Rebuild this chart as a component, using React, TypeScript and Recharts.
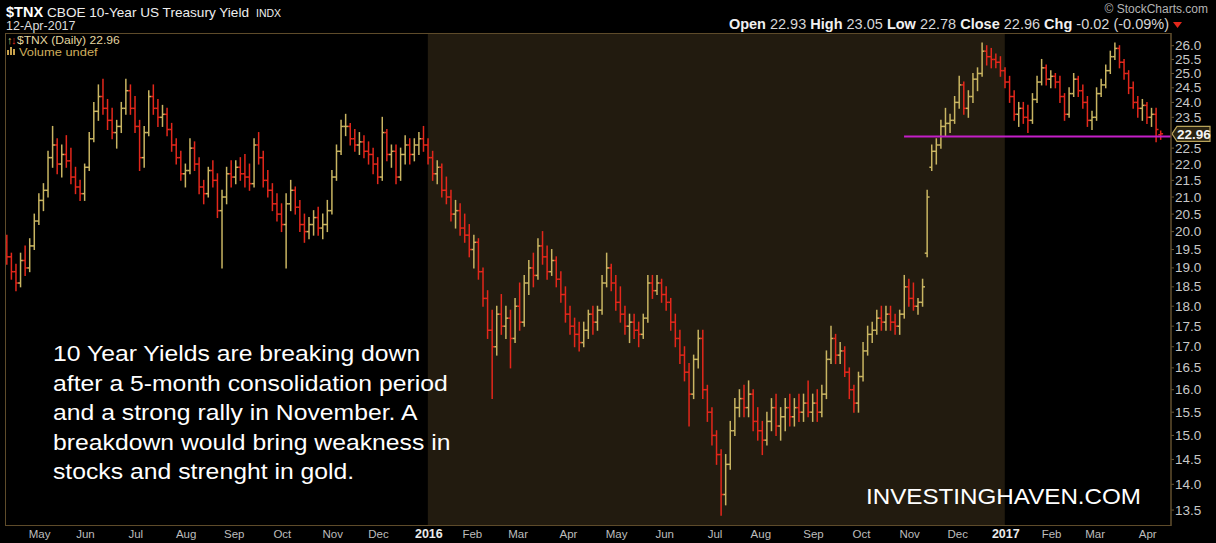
import React from "react";
import {
  ComposedChart,
  Bar,
  XAxis,
  YAxis,
  ReferenceArea,
  ReferenceLine,
} from "recharts";

if (typeof document !== "undefined") {
  document.body.style.margin = "0";
  document.body.style.background = "#000";
}

const FONT = '"Liberation Sans", Arial, Helvetica, sans-serif';
const UP = "#c9b562";
const DOWN = "#e3271b";
const FRAME = "#5e4b2a";
const SHADE = "#221b0f";

// $TNX, one bar per two sessions, 13-Apr-2015 .. 12-Apr-2017
const opens = [
  19.7, 19.3, 18.9, 18.6, 19.2, 19.0, 19.6, 20.3, 20.9, 21.2,
  22.2, 22.6, 22.0, 22.3, 22.1, 21.6, 21.3, 21.1, 21.9, 22.8,
  23.7, 24.2, 23.8, 23.4, 23.0, 23.2, 23.8, 24.4, 23.8, 23.2,
  22.2, 23.0, 24.2, 23.8, 23.5, 23.6, 23.1, 22.6, 22.2, 21.7,
  21.8, 22.5, 22.0, 21.3, 21.1, 21.8, 21.5, 20.6, 21.0, 21.7,
  21.6, 21.9, 21.7, 21.6, 21.4, 22.6, 22.2, 21.5, 21.2, 20.8,
  20.5, 20.2, 20.8, 21.2, 20.7, 20.2, 20.0, 20.2, 20.4, 20.1,
  20.2, 20.6, 21.6, 22.4, 23.2, 23.2, 22.8, 22.6, 22.7, 22.4,
  22.3, 22.0, 21.6, 23.0, 22.3, 22.4, 21.6, 22.3, 22.6, 22.3,
  22.6, 22.8, 22.6, 22.2, 21.7, 21.9, 21.2, 21.0, 20.5, 20.6,
  20.1, 19.9, 19.5, 19.7, 18.9, 18.2, 17.4, 17.0, 17.8, 17.5,
  17.7, 17.2, 18.0, 17.6, 18.6, 19.0, 18.8, 19.6, 19.3, 18.9,
  19.2, 18.7, 18.3, 17.8, 17.5, 17.3, 17.1, 17.4, 17.8, 17.6,
  17.9, 18.6, 19.0, 18.6, 18.1, 17.8, 17.5, 17.6, 17.4, 17.3,
  17.7, 18.6, 18.4, 18.6, 18.3, 18.1, 17.6, 17.2, 16.8, 16.4,
  15.9, 16.7, 17.2, 16.0, 15.5, 15.0, 14.6, 13.8, 14.4, 15.1,
  15.6, 15.8, 15.6, 15.9, 15.3, 15.1, 14.9, 15.3, 15.6, 15.2,
  15.4, 15.6, 15.4, 15.6, 15.5, 15.7, 15.5, 15.7, 15.5, 15.9,
  16.7, 17.2, 16.8, 16.9, 16.4, 16.0, 15.7, 16.3, 16.9, 17.3,
  17.4, 17.7, 17.6, 17.8, 17.6, 17.5, 17.8, 18.5, 18.2, 18.0,
  18.1, 19.4, 21.9, 22.4, 22.6, 23.2, 23.3, 23.4, 24.0, 24.6,
  23.8, 24.2, 24.8, 25.0, 25.8, 25.6, 25.5, 25.4, 25.1, 24.7,
  24.2, 23.6, 23.8, 23.5, 23.4, 24.1, 24.7, 25.2, 24.8, 24.9,
  24.7, 24.2, 23.6, 24.3, 24.8, 24.4, 24.0, 23.4, 23.5, 24.3,
  24.6, 25.1, 25.6, 25.9, 25.4, 25.0, 24.5, 24.0, 23.8, 23.9,
  23.5, 23.6, 22.93,
];
const highs = [
  19.9, 19.4, 19.1, 19.4, 19.6, 19.8, 20.5, 21.1, 21.4, 22.4,
  23.2, 22.8, 22.6, 22.9, 22.5, 21.9, 21.5, 22.0, 23.0, 24.0,
  24.6, 24.8, 24.1, 23.8, 23.4, 24.0, 24.8, 24.6, 24.2, 23.4,
  23.2, 24.4, 24.6, 24.1, 23.9, 23.8, 23.3, 22.8, 22.4, 22.0,
  22.8, 22.7, 22.2, 21.5, 21.9, 22.1, 21.7, 21.2, 21.9, 22.1,
  22.1, 22.2, 22.3, 22.0, 22.8, 23.0, 22.4, 21.8, 21.4, 21.1,
  20.8, 21.1, 21.5, 21.3, 20.9, 20.5, 20.4, 20.6, 20.7, 20.5,
  20.9, 21.8, 22.6, 23.4, 23.6, 23.3, 23.1, 23.0, 22.9, 22.7,
  22.5, 22.2, 23.5, 23.1, 22.6, 22.6, 22.5, 22.9, 22.8, 22.8,
  23.0, 23.2, 22.8, 22.4, 22.1, 22.0, 21.6, 21.2, 20.9, 20.8,
  20.5, 20.2, 19.9, 19.8, 19.0, 18.4, 17.9, 18.0, 18.3, 18.0,
  17.9, 18.2, 18.6, 18.8, 19.2, 19.4, 19.8, 20.0, 19.6, 19.5,
  19.3, 18.9, 18.5, 18.0, 17.7, 17.6, 17.6, 17.9, 18.0, 18.0,
  18.8, 19.4, 19.1, 18.8, 18.5, 18.0, 17.8, 17.8, 17.6, 17.8,
  18.8, 18.8, 18.8, 18.7, 18.5, 18.2, 17.8, 17.4, 17.0, 16.6,
  16.8, 17.4, 17.4, 16.1, 15.6, 15.1, 14.7, 14.6, 15.3, 15.8,
  16.0, 16.1, 16.2, 16.0, 15.6, 15.3, 15.5, 15.8, 15.9, 15.6,
  15.8, 15.9, 15.8, 15.9, 15.9, 16.2, 15.9, 16.0, 16.1, 16.9,
  17.5, 17.3, 17.1, 17.0, 16.5, 16.1, 16.4, 17.1, 17.5, 17.6,
  17.9, 18.0, 18.0, 18.0, 17.8, 17.9, 18.8, 18.7, 18.6, 18.2,
  18.7, 21.2, 22.6, 22.8, 23.4, 23.8, 23.6, 24.2, 24.9, 24.7,
  24.4, 25.0, 25.2, 26.1, 26.0, 25.9, 25.7, 25.6, 25.2, 24.9,
  24.4, 24.0, 24.0, 23.9, 24.3, 24.9, 25.5, 25.3, 25.1, 25.0,
  24.9, 24.3, 24.5, 25.0, 24.9, 24.6, 24.2, 23.7, 24.5, 24.8,
  25.3, 25.8, 26.1, 26.0, 25.5, 25.1, 24.7, 24.2, 24.1, 24.0,
  23.8, 23.8, 23.05,
];
const lows = [
  19.1, 18.7, 18.4, 18.5, 18.8, 18.9, 19.5, 20.2, 20.6, 21.0,
  21.9, 21.7, 21.6, 21.9, 21.4, 21.1, 20.9, 20.9, 21.8, 22.7,
  23.4, 23.6, 23.1, 22.8, 22.5, 23.0, 23.6, 23.6, 23.0, 21.8,
  21.9, 22.9, 23.6, 23.2, 23.2, 22.9, 22.4, 22.0, 21.5, 21.3,
  21.7, 21.8, 21.1, 20.8, 21.0, 21.3, 20.4, 19.0, 20.8, 21.3,
  21.4, 21.5, 21.3, 21.2, 21.3, 22.0, 21.3, 21.0, 20.6, 20.3,
  20.0, 19.0, 20.6, 20.5, 20.0, 19.7, 19.8, 19.9, 19.9, 19.8,
  20.0, 20.5, 21.5, 22.3, 22.9, 22.6, 22.4, 22.3, 22.2, 22.0,
  21.7, 21.4, 21.5, 22.1, 21.9, 21.4, 21.5, 22.0, 22.0, 22.1,
  22.3, 22.4, 22.0, 21.5, 21.4, 21.0, 20.8, 20.3, 20.1, 19.9,
  19.7, 19.3, 19.0, 18.7, 18.0, 17.2, 15.8, 16.8, 17.3, 17.2,
  16.5, 17.1, 17.4, 17.5, 18.3, 18.5, 18.7, 19.1, 18.7, 18.8,
  18.5, 18.1, 17.6, 17.3, 17.0, 16.9, 17.0, 17.2, 17.3, 17.4,
  17.8, 18.5, 18.4, 17.9, 17.6, 17.3, 17.1, 17.2, 17.0, 17.2,
  17.6, 18.2, 18.3, 18.1, 17.9, 17.4, 17.0, 16.6, 16.2, 15.2,
  15.8, 16.5, 15.8, 15.3, 14.8, 14.4, 13.4, 13.6, 14.3, 15.0,
  15.4, 15.4, 15.4, 15.1, 14.9, 14.6, 14.8, 15.1, 15.0, 14.9,
  15.1, 15.2, 15.2, 15.3, 15.3, 15.4, 15.3, 15.3, 15.4, 15.8,
  16.6, 16.6, 16.6, 16.3, 15.8, 15.5, 15.5, 16.2, 16.8, 17.1,
  17.3, 17.4, 17.4, 17.4, 17.3, 17.3, 17.7, 18.0, 17.9, 17.8,
  18.0, 19.3, 21.8, 22.0, 22.5, 22.9, 23.0, 23.3, 23.8, 23.6,
  23.5, 24.0, 24.4, 24.9, 25.3, 25.2, 25.2, 24.9, 24.5, 24.0,
  23.4, 23.2, 23.3, 23.0, 23.3, 24.0, 24.6, 24.6, 24.5, 24.5,
  24.0, 23.4, 23.5, 24.2, 24.2, 23.8, 23.2, 23.1, 23.4, 24.2,
  24.5, 25.0, 25.5, 25.2, 24.8, 24.3, 23.8, 23.5, 23.4, 23.3,
  23.2, 22.7, 22.78,
];
const closes = [
  19.3, 18.9, 18.6, 19.2, 19.0, 19.6, 20.3, 20.9, 21.2, 22.2,
  22.6, 22.0, 22.3, 22.1, 21.6, 21.3, 21.1, 21.9, 22.8, 23.7,
  24.2, 23.8, 23.4, 23.0, 23.2, 23.8, 24.4, 23.8, 23.2, 22.2,
  23.0, 24.2, 23.8, 23.5, 23.6, 23.1, 22.6, 22.2, 21.7, 21.8,
  22.5, 22.0, 21.3, 21.1, 21.8, 21.5, 20.6, 21.0, 21.7, 21.6,
  21.9, 21.7, 21.6, 21.4, 22.6, 22.2, 21.5, 21.2, 20.8, 20.5,
  20.2, 20.8, 21.2, 20.7, 20.2, 20.0, 20.2, 20.4, 20.1, 20.2,
  20.6, 21.6, 22.4, 23.2, 23.2, 22.8, 22.6, 22.7, 22.4, 22.3,
  22.0, 21.6, 23.0, 22.3, 22.4, 21.6, 22.3, 22.6, 22.3, 22.6,
  22.8, 22.6, 22.2, 21.7, 21.9, 21.2, 21.0, 20.5, 20.6, 20.1,
  19.9, 19.5, 19.7, 18.9, 18.2, 17.4, 17.0, 17.8, 17.5, 17.7,
  17.2, 18.0, 17.6, 18.6, 19.0, 18.8, 19.6, 19.3, 18.9, 19.2,
  18.7, 18.3, 17.8, 17.5, 17.3, 17.1, 17.4, 17.8, 17.6, 17.9,
  18.6, 19.0, 18.6, 18.1, 17.8, 17.5, 17.6, 17.4, 17.3, 17.7,
  18.6, 18.4, 18.6, 18.3, 18.1, 17.6, 17.2, 16.8, 16.4, 15.9,
  16.7, 17.2, 16.0, 15.5, 15.0, 14.6, 13.8, 14.4, 15.1, 15.6,
  15.8, 15.6, 15.9, 15.3, 15.1, 14.9, 15.3, 15.6, 15.2, 15.4,
  15.6, 15.4, 15.6, 15.5, 15.7, 15.5, 15.7, 15.5, 15.9, 16.7,
  17.2, 16.8, 16.9, 16.4, 16.0, 15.7, 16.3, 16.9, 17.3, 17.4,
  17.7, 17.6, 17.8, 17.6, 17.5, 17.8, 18.5, 18.2, 18.0, 18.1,
  18.5, 21.0, 22.4, 22.6, 23.2, 23.3, 23.4, 24.0, 24.6, 23.8,
  24.2, 24.8, 25.0, 25.8, 25.6, 25.5, 25.4, 25.1, 24.7, 24.2,
  23.6, 23.8, 23.5, 23.4, 24.1, 24.7, 25.2, 24.8, 24.9, 24.7,
  24.2, 23.6, 24.3, 24.8, 24.4, 24.0, 23.4, 23.5, 24.3, 24.6,
  25.1, 25.6, 25.9, 25.4, 25.0, 24.5, 24.0, 23.8, 23.9, 23.5,
  23.6, 23.1, 22.96,
];

const sessionsPerBar = 2;
// session number (from 13-Apr-2015) where each month starts
const monthStartSession = [
  14, 34, 56, 78, 99, 120, 142, 162, 184, 203, 223, 245,
  266, 287, 309, 329, 352, 373, 394, 415, 436, 456, 475, 498,
];
const monthLabels = [
  "May", "Jun", "Jul", "Aug", "Sep", "Oct", "Nov", "Dec", "2016", "Feb", "Mar", "Apr",
  "May", "Jun", "Jul", "Aug", "Sep", "Oct", "Nov", "Dec", "2017", "Feb", "Mar", "Apr",
];
// 23.0 is hidden behind the last-close tag on the original
const priceTicks = [
  13.5, 14.0, 14.5, 15.0, 15.5, 16.0, 16.5, 17.0, 17.5, 18.0, 18.5, 19.0,
  19.5, 20.0, 20.5, 21.0, 21.5, 22.0, 22.5, 23.5, 24.0, 24.5, 25.0, 25.5, 26.0,
];
const lastClose = 22.96;
const supportLevel = 22.87;
const supportFromSession = 392;
const year2016Session = 184;
const year2017Session = 436;

const annotation = [
  "10 Year Yields are breaking down",
  "after a 5-month consolidation period",
  "and a strong rally in November. A",
  "breakdown would bring weakness in",
  "stocks and strenght in gold.",
];

const rows = closes.map((c, i) => ({
  i,
  o: opens[i],
  h: highs[i],
  l: lows[i],
  c,
  range: [lows[i], highs[i]],
  up: i === 0 ? c >= opens[i] : c >= closes[i - 1],
}));
const monthTicks = monthStartSession.map((s) => s / sessionsPerBar);
const xMax = rows.length + 1.3;

function OhlcBar(props: any) {
  const { x, y, width, height, payload } = props;
  if (!payload || !isFinite(y) || !isFinite(height)) return null;
  const top = Math.min(y, y + height);
  const bot = Math.max(y, y + height);
  const cx = x + width / 2;
  const { o, h, l, c, up } = payload;
  const span = Math.log(h) - Math.log(l) || 1;
  const yAt = (v: number) => top + ((Math.log(h) - Math.log(v)) / span) * (bot - top);
  return (
    <g stroke={up ? UP : DOWN} strokeWidth={1.5}>
      <line x1={cx} x2={cx} y1={top - 0.5} y2={bot + 0.5} />
      <line x1={cx - 2.4} x2={cx} y1={yAt(o)} y2={yAt(o)} />
      <line x1={cx} x2={cx + 2.4} y1={yAt(c)} y2={yAt(c)} />
    </g>
  );
}

function MonthTick(props: any) {
  const idx = monthTicks.indexOf(props.payload?.value);
  const label = monthLabels[idx] ?? "";
  const year = /^\d{4}$/.test(label);
  return (
    <text
      x={props.x + 1}
      y={props.y + 12}
      textAnchor="middle"
      fontFamily={FONT}
      fontSize={year ? 12.5 : 11.5}
      fontWeight={year ? 700 : 400}
      fill={year ? "#ececec" : "#bdbdbd"}
    >
      {label}
    </text>
  );
}

function PriceTick(props: any) {
  return (
    <text x={props.x} y={props.y + 4.5} textAnchor="start" fontFamily={FONT} fontSize={13.5} fill="#c8c8c8">
      {Number(props.payload.value).toFixed(1)}
    </text>
  );
}

function LastTag(props: any) {
  const vb = props.viewBox;
  if (!vb) return null;
  const x = vb.x + vb.width + 1;
  const y = vb.y;
  return (
    <g>
      <polygon
        points={`${x},${y} ${x + 5},${y - 7.5} ${x + 38},${y - 7.5} ${x + 38},${y + 7.5} ${x + 5},${y + 7.5}`}
        fill="#2a2311"
        stroke="#b9a35a"
        strokeWidth={1.2}
      />
      <text x={x + 22} y={y + 4.8} textAnchor="middle" fontFamily={FONT} fontSize={13.5} fontWeight={700} fill="#f4f4f4">
        {lastClose.toFixed(2)}
      </text>
    </g>
  );
}

function Overlay() {
  return (
    <svg width={1216} height={543} style={{ position: "absolute", left: 0, top: 0, pointerEvents: "none" }} fontFamily={FONT}>
      <rect x={5.5} y={33.5} width={1165.5} height={492} fill="none" stroke={FRAME} strokeWidth={1} />
      <text x={6} y={17} fontSize={14.5} fontWeight={700} fill="#fff">$TNX</text>
      <text x={47} y={17} fontSize={13.6} fill="#eee">CBOE 10-Year US Treasury Yield</text>
      <text x={256} y={17} fontSize={10.5} fill="#eee">INDX</text>
      <text x={6} y={30} fontSize={12.5} fill="#ddd">12-Apr-2017</text>
      <g fontWeight={700} fontSize={11}>
        <text x={7} y={44} fill="#d9c56a">↑</text>
        <text x={11} y={44} fill="#e3271b">↓</text>
      </g>
      <text transform="translate(17 44) scale(1.12 1)" fontSize={10.8} fill="#e4d7a0">$TNX (Daily) 22.96</text>
      <g fill="#c9a24c">
        <rect x={7} y={50} width={2} height={5} />
        <rect x={10} y={47} width={2} height={8} />
        <rect x={13} y={49} width={2} height={6} />
      </g>
      <text transform="translate(19 55.5) scale(1.15 1)" fontSize={11.2} fill="#cfae5c">Volume undef</text>
      <text x={1208} y={13} textAnchor="end" fontSize={12} fill="#b4b4b4">© StockCharts.com</text>
      <text x={1169} y={29} textAnchor="end" fontSize={14.5} fill="#d6d6d6">
        <tspan fontWeight={700} fill="#f0f0f0">Open</tspan> 22.93{"  "}
        <tspan fontWeight={700} fill="#f0f0f0">High</tspan> 23.05{"  "}
        <tspan fontWeight={700} fill="#f0f0f0">Low</tspan> 22.78{"  "}
        <tspan fontWeight={700} fill="#f0f0f0">Close</tspan> 22.96{"  "}
        <tspan fontWeight={700} fill="#f0f0f0">Chg</tspan> -0.02 (-0.09%)
      </text>
      <polygon points="1173,22 1182,22 1177.5,28" fill="#e3271b" />
      {annotation.map((line, i) => (
        <text key={i} transform={`translate(53 ${361 + i * 29.5}) scale(1.125 1)`} fontSize={22} fill="#fff">
          {line}
        </text>
      ))}
      <text transform="translate(866 504) scale(1.1 1)" fontSize={22} fill="#fff">INVESTINGHAVEN.COM</text>
    </svg>
  );
}

export default function App() {
  return (
    <div style={{ position: "relative", width: 1216, height: 543, background: "#000" }}>
      <ComposedChart width={1216} height={543} data={rows} margin={{ top: 33, right: 0, bottom: 0, left: 5 }}>
        <ReferenceArea x1={year2016Session / sessionsPerBar} x2={year2017Session / sessionsPerBar} fill={SHADE} fillOpacity={1} stroke="none" ifOverflow="visible" />
        <XAxis
          type="number"
          dataKey="i"
          domain={[-0.35, xMax]}
          allowDataOverflow
          ticks={monthTicks}
          interval={0}
          tick={<MonthTick />}
          tickLine={false}
          axisLine={false}
          tickSize={0}
          tickMargin={0}
          height={17}
        />
        <YAxis
          orientation="right"
          type="number"
          scale="log"
          domain={[13.2, 26.47]}
          allowDataOverflow
          ticks={priceTicks}
          interval={0}
          width={45}
          axisLine={{ stroke: "#6a5836" }}
          tickLine={{ stroke: "#6a5836" }}
          tickSize={3}
          tickMargin={1}
          tick={<PriceTick />}
        />
        <Bar dataKey="range" barSize={3} isAnimationActive={false} shape={(p: any) => <OhlcBar {...p} />} />
        <ReferenceLine
          segment={[
            { x: supportFromSession / sessionsPerBar, y: supportLevel },
            { x: xMax, y: supportLevel },
          ]}
          stroke="#c41fc8"
          strokeWidth={2}
          ifOverflow="visible"
        />
        <ReferenceLine y={lastClose} stroke="none" label={<LastTag />} />
      </ComposedChart>
      <Overlay />
    </div>
  );
}
